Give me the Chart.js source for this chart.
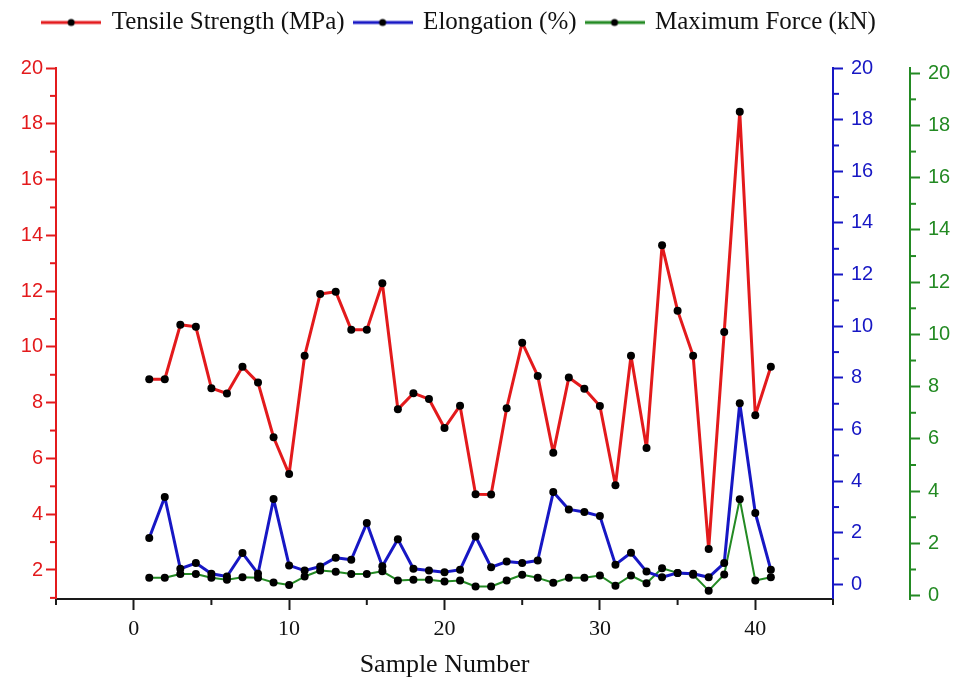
<!DOCTYPE html>
<html>
<head>
<meta charset="utf-8">
<script src="https://cdn.jsdelivr.net/npm/chart.js@4.4.1/dist/chart.umd.min.js"></script>
<style>
  html, body { margin: 0; padding: 0; background: #fff; }
  #wrap { width: 967px; height: 683px; }
</style>
</head>
<body>
<div id="wrap"><canvas id="myChart"></canvas></div>
<script>
// datos
const samples = [1, 2, 3, 4, 5, 6, 7, 8, 9, 10, 11, 12, 13, 14, 15, 16, 17, 18, 19, 20,
  21, 22, 23, 24, 25, 26, 27, 28, 29, 30, 31, 32, 33, 34, 35, 36, 37, 38, 39, 40, 41];
const tensile = [8.84, 8.84, 10.79, 10.72, 8.52, 8.33, 9.29, 8.72, 6.76, 5.44,
  9.68, 11.9, 11.98, 10.61, 10.61, 12.28, 7.76, 8.34, 8.13, 7.09,
  7.89, 4.72, 4.71, 7.8, 10.15, 8.96, 6.2, 8.9, 8.5, 7.88,
  5.04, 9.68, 6.37, 13.64, 11.3, 9.68, 2.75, 10.53, 18.43, 7.55, 9.29];
const elongation = [1.8, 3.39, 0.61, 0.83, 0.42, 0.31, 1.22, 0.42, 3.31, 0.74,
  0.54, 0.7, 1.04, 0.96, 2.38, 0.71, 1.75, 0.61, 0.54, 0.48,
  0.57, 1.86, 0.67, 0.89, 0.83, 0.93, 3.58, 2.91, 2.81, 2.65,
  0.77, 1.23, 0.5, 0.28, 0.45, 0.42, 0.28, 0.83, 7.02, 2.77, 0.57];
const force = [0.68, 0.68, 0.83, 0.83, 0.68, 0.61, 0.7, 0.68, 0.5, 0.41,
  0.73, 0.96, 0.91, 0.83, 0.83, 0.93, 0.58, 0.61, 0.61, 0.54,
  0.58, 0.35, 0.35, 0.58, 0.8, 0.68, 0.49, 0.68, 0.68, 0.77,
  0.38, 0.77, 0.47, 1.05, 0.87, 0.8, 0.19, 0.81, 3.69, 0.58, 0.7];

const xTicks = [0, 10, 20, 30, 40];
const tensileTicks = [2, 4, 6, 8, 10, 12, 14, 16, 18, 20];
const elongTicks = [0, 2, 4, 6, 8, 10, 12, 14, 16, 18, 20];
const forceTicks = [0, 2, 4, 6, 8, 10, 12, 14, 16, 18, 20];

const rojo = "#e31a1c";
const azul = "#1717c4";
const verde = "#238a23";
const negro = "#1a1a1a";

// icono de la leyenda: linea con punto negro
function legendIcon(color) {
  const c = document.createElement("canvas");
  c.width = 60;
  c.height = 10;
  const ctx = c.getContext("2d");
  ctx.strokeStyle = color;
  ctx.lineWidth = 3;
  ctx.beginPath();
  ctx.moveTo(0, 5);
  ctx.lineTo(60, 5);
  ctx.stroke();
  ctx.fillStyle = "#000";
  ctx.beginPath();
  ctx.arc(30, 5, 3.5, 0, Math.PI * 2);
  ctx.fill();
  return c;
}

function serie(label, valores, color, eje, ancho) {
  return {
    label: label,
    data: samples.map((s, i) => ({ x: s, y: valores[i] })),
    yAxisID: eje,
    borderColor: color,
    backgroundColor: color,
    borderWidth: ancho,
    borderJoinStyle: "round",
    tension: 0,
    pointRadius: 4,
    pointBackgroundColor: "#000",
    pointBorderColor: "#000",
    pointBorderWidth: 0,
    icon: legendIcon(color),
  };
}

// ticks menores (cada 1 unidad en y, cada 5 en x)
const minorConf = {
  x: { start: -5, step: 10, len: 6, color: negro },
  yTensile: { start: 1, step: 2, len: 6, color: rojo },
  yElong: { start: 1, step: 2, len: 6, color: azul },
  yForce: { start: 1, step: 2, len: 6, color: verde },
};

const minorTicks = {
  id: "minorTicks",
  afterDraw(chart) {
    const ctx = chart.ctx;
    Object.keys(minorConf).forEach((id) => {
      const scale = chart.scales[id];
      const m = minorConf[id];
      ctx.save();
      ctx.strokeStyle = m.color;
      ctx.lineWidth = 2;
      for (let v = m.start; v <= scale.max + 1e-9; v += m.step) {
        const p = scale.getPixelForValue(v);
        ctx.beginPath();
        if (scale.isHorizontal()) {
          ctx.moveTo(p, scale.top);
          ctx.lineTo(p, scale.top + m.len);
        } else if (scale.position === "left") {
          ctx.moveTo(scale.right, p);
          ctx.lineTo(scale.right - m.len, p);
        } else {
          ctx.moveTo(scale.left, p);
          ctx.lineTo(scale.left + m.len, p);
        }
        ctx.stroke();
      }
      ctx.restore();
    });
  },
};

// mas espacio bajo la leyenda y leyenda algo a la izquierda
const legendSpace = {
  id: "legendSpace",
  beforeInit(chart) {
    const fit = chart.legend.fit;
    chart.legend.fit = function () {
      fit.bind(chart.legend)();
      this.height += 23;
    };
  },
  afterLayout(chart) {
    chart.legend.left -= 24;
    chart.legend.right -= 24;
    chart.legend.width = chart.legend.right - chart.legend.left;
  },
};

function ejeY(color, min, max, valores, pos, peso, ancho) {
  return {
    type: "linear",
    position: pos,
    weight: peso,
    min: min,
    max: max,
    afterBuildTicks: (s) => { s.ticks = valores.map((v) => ({ value: v })); },
    afterFit: (s) => { s.width = ancho; },
    grid: { drawOnChartArea: false, drawTicks: true, tickLength: 10, tickWidth: 2, tickColor: color },
    border: { color: color, width: 2 },
    ticks: {
      color: color,
      font: { family: "Liberation Sans", size: 20 },
      padding: pos === "left" ? 3 : 8,
      autoSkip: false,
    },
  };
}

const config = {
  type: "line",
  data: {
    datasets: [
      serie("Tensile Strength (MPa)", tensile, rojo, "yTensile", 3),
      serie("Elongation (%)", elongation, azul, "yElong", 3),
      serie("Maximum Force (kN)", force, verde, "yForce", 2),
    ],
  },
  options: {
    responsive: true,
    maintainAspectRatio: false,
    animation: false,
    devicePixelRatio: 1,
    layout: { padding: { left: 0, right: 0, top: 0, bottom: 0 } },
    plugins: {
      tooltip: { enabled: false },
      legend: {
        display: true,
        position: "top",
        labels: {
          usePointStyle: true,
          pointStyleWidth: 56,
          padding: 10,
          color: "#111",
          font: { family: "Liberation Serif", size: 25 },
          generateLabels: (chart) => chart.data.datasets.map((ds, i) => ({
            text: ds.label,
            fontColor: "#111",
            pointStyle: ds.icon,
            fillStyle: ds.borderColor,
            strokeStyle: ds.borderColor,
            lineWidth: 0,
            hidden: false,
            datasetIndex: i,
          })),
        },
      },
    },
    scales: {
      x: {
        type: "linear",
        position: "bottom",
        min: -5,
        max: 45,
        afterBuildTicks: (s) => { s.ticks = xTicks.map((v) => ({ value: v })); },
        afterFit: (s) => { s.height = 84; },
        grid: { drawOnChartArea: false, drawTicks: true, tickLength: 11, tickWidth: 2, tickColor: negro },
        border: { color: negro, width: 2 },
        ticks: {
          color: "#111",
          font: { family: "Liberation Serif", size: 22 },
          padding: 6,
          maxRotation: 0,
          autoSkip: false,
        },
        title: {
          display: true,
          text: "Sample Number",
          color: "#111",
          font: { family: "Liberation Serif", size: 26 },
          padding: { top: 4, bottom: 2 },
        },
      },
      yTensile: ejeY(rojo, 0.96, 20, tensileTicks, "left", 0, 56),
      yElong: ejeY(azul, -0.56, 20, elongTicks, "right", 0, 77),
      yForce: ejeY(verde, -0.13, 20.2, forceTicks, "right", 1, 57),
    },
  },
  plugins: [minorTicks, legendSpace],
};

const myChart = new Chart(document.getElementById("myChart"), config);
</script>
</body>
</html>
